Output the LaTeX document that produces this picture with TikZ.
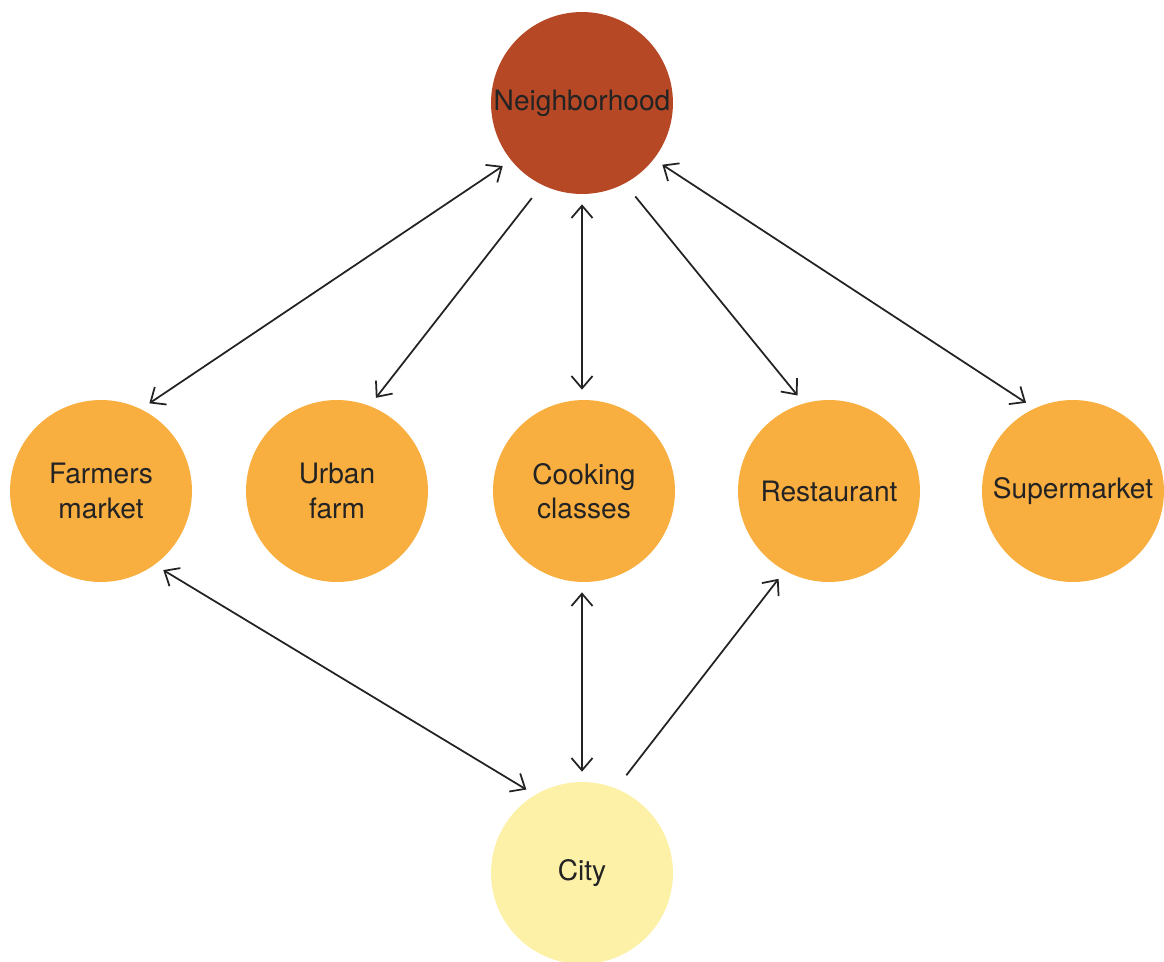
\documentclass[tikz,border=0pt]{standalone}
\usepackage{fontspec}
\setmainfont{TeX Gyre Heros}
\usetikzlibrary{arrows.meta}
\definecolor{hoodred}{HTML}{B64825}
\definecolor{placeorange}{HTML}{F9AE40}
\definecolor{cityyellow}{HTML}{FDF1A8}
\definecolor{inkgrey}{HTML}{232323}
\tikzset{
  place/.style={circle,fill=#1,minimum size=3.64cm,inner sep=0pt,
    align=center,text=inkgrey,font=\fontsize{16}{19.5}\selectfont},
  link/.style={draw=inkgrey,line width=1pt,shorten >=0.2cm},
  tip/.tip={Straight Barb[length=7pt,width=12pt]},
  one/.style={link,shorten <=0.33cm,-tip},
  both/.style={link,shorten <=0.2cm,tip-tip}
}
\begin{document}
\begin{tikzpicture}[x=0.02cm,y=-0.02cm]
  \useasboundingbox (0,0) rectangle (1164,961);
  % top and bottom levels
  \node[place=hoodred] (hood) at (582,103) {Neighborhood};
  \node[place=cityyellow] (city) at (582,873) {City};
  % middle row of food places
  \node[place=placeorange] (farmers) at (101,491) {Farmers\\market};
  \node[place=placeorange] (farm) at (337,491) {Urban\\farm};
  \node[place=placeorange] (cooking) at (584,491) {Cooking\\classes};
  \node[place=placeorange] (rest) at (829,491) {Restaurant};
  \node[place=placeorange] (super) at (1073,491) {Supermarket};
  % links from the neighborhood
  \draw[both] (hood.219) -- (farmers.64);
  \draw[one] (hood.244) -- (farm.69);
  \draw[both] (hood.270) -- (hood.270 |- cooking.north);
  \draw[one] (hood.298) -- (rest.106);
  \draw[both] (hood.322) -- (super.115);
  % links from the city
  \draw[both] (city.121) -- (farmers.306);
  \draw[both] (city.90) -- (city.90 |- cooking.south);
  \draw[one] (city.68) -- (rest.241);
\end{tikzpicture}
\end{document}
